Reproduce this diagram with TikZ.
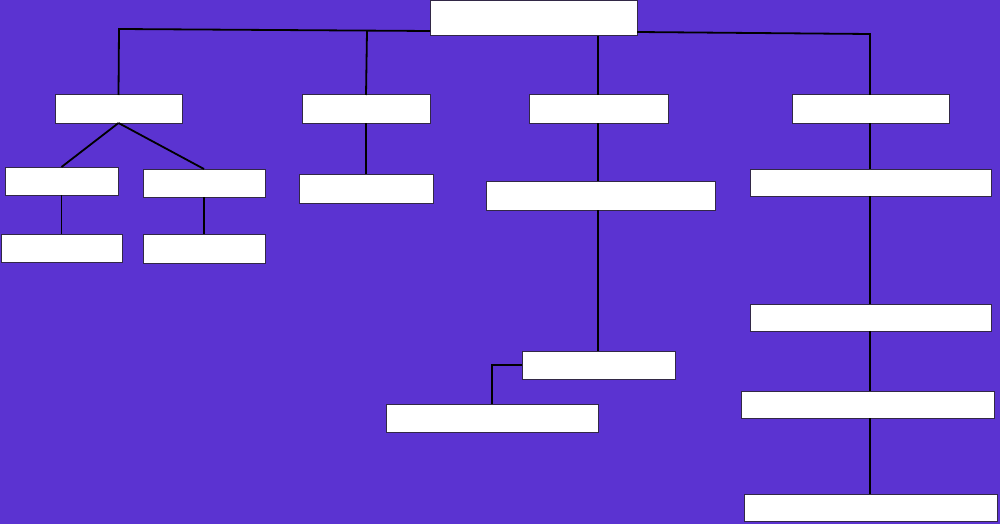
\documentclass[tikz,border=0pt]{standalone}
\usetikzlibrary{fit}
\definecolor{bgpurple}{RGB}{91,51,209}
\definecolor{boxline}{RGB}{50,40,70}
\begin{document}
\begin{tikzpicture}[x=1pt,y=-1pt,
  box/.style={draw=boxline,fill=white,line width=1pt,inner sep=0pt,outer sep=0pt},
  link/.style={draw=black,line width=1.8pt}]
\fill[bgpurple] (0,0) rectangle (1000,524);
\useasboundingbox (0,0) rectangle (1000,524);
% boxes
\node[box,fit={(430,1) (637,36)}] (top) {};
\node[box,fit={(55,95) (182,123)}] (A) {};
\node[box,fit={(302,95) (430,123)}] (B) {};
\node[box,fit={(529,95) (668,123)}] (C) {};
\node[box,fit={(792,95) (949,123)}] (D) {};
\node[box,fit={(5,167) (118,195)}] (A1) {};
\node[box,fit={(143,169) (265,197)}] (A2) {};
\node[box,fit={(1,234) (122,262)}] (A1a) {};
\node[box,fit={(143,234) (265,263)}] (A2a) {};
\node[box,fit={(299,174) (433,203)}] (B1) {};
\node[box,fit={(486,181) (715,210)}] (C1) {};
\node[box,fit={(522,351) (675,379)}] (C2) {};
\node[box,fit={(386,404) (598,432)}] (C3) {};
\node[box,fit={(750,169) (991,196)}] (D1) {};
\node[box,fit={(750,304) (991,331)}] (D2) {};
\node[box,fit={(741,391) (994,418)}] (D3) {};
\node[box,fit={(744,494) (997,521)}] (D4) {};
% junction coordinates
\coordinate (jL) at (119,29);
\coordinate (jB) at (367,31);
\coordinate (jR) at (870,34);
\coordinate (jC) at (492,365);
\coordinate (xC) at (598,0);
\coordinate (xD) at (870,0);
% connectors
\draw[link] ([yshift=-12.5pt]top.west) -- (jL) -- (A.north);
\draw[link] (jB) -- (B.north);
\draw[link] ([yshift=-13.5pt]top.east) -- (jR) -- (jR |- D.north);
\draw[link] (xC |- top.south) -- (xC |- C.north);
\draw[link] (A.south) -- (A1.north);
\draw[link] (A.south) -- (A2.north);
\draw[link] (A1.south) -- (A1a.north);
\draw[link] (A2.south) -- (A2a.north);
\draw[link] (B.south) -- (B1.north);
\draw[link] (xC |- C.south) -- (xC |- C1.north);
\draw[link] (xC |- C1.south) -- (xC |- C2.north);
\draw[link] (C2.west) -- (jC) -- (C3.north -| jC);
\draw[link] (xD |- D.south) -- (xD |- D1.north);
\draw[link] (xD |- D1.south) -- (xD |- D2.north);
\draw[link] (xD |- D2.south) -- (xD |- D3.north);
\draw[link] (xD |- D3.south) -- (xD |- D4.north);
\end{tikzpicture}
\end{document}
